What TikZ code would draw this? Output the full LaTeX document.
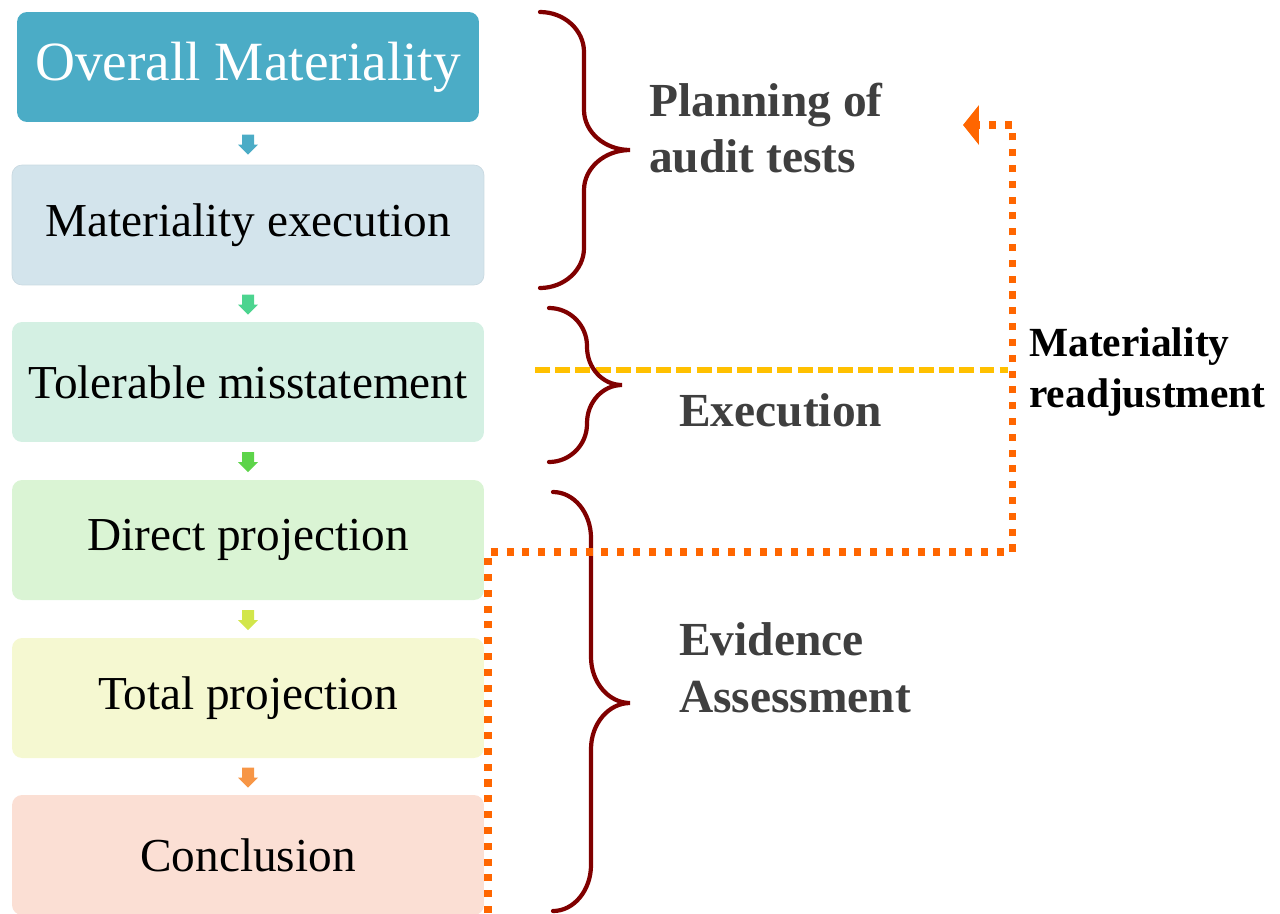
\documentclass[tikz,border=0pt]{standalone}
\usepackage{fontspec}
\setmainfont{Liberation Serif}
\usepackage{xcolor}
\usetikzlibrary{positioning,calc,arrows.meta}

\definecolor{tealbox}{HTML}{4BACC6}
\definecolor{bluebox}{HTML}{D3E4EC}
\definecolor{mintbox}{HTML}{D4F0E3}
\definecolor{greenbox}{HTML}{DAF4D4}
\definecolor{yellowbox}{HTML}{F5F8D1}
\definecolor{salmonbox}{HTML}{FBDFD4}
\definecolor{arrowA}{HTML}{4BACC6}
\definecolor{arrowB}{HTML}{4CD48F}
\definecolor{arrowC}{HTML}{5DD44A}
\definecolor{arrowD}{HTML}{D2E64B}
\definecolor{arrowE}{HTML}{F79646}
\definecolor{bracered}{HTML}{800000}
\definecolor{labelgray}{HTML}{3F3F3F}
\definecolor{dotorange}{HTML}{FF6600}
\definecolor{dashyellow}{HTML}{FFC000}

\tikzset{
  stagebox/.style={rounded corners=0.2cm, minimum width=9.44cm,
    minimum height=2.4cm, inner sep=0pt,
    font=\fontsize{26.9}{30}\selectfont},
  phaselabel/.style={anchor=west, align=left, text=labelgray,
    font=\fontsize{27}{32.3}\selectfont\bfseries},
  phasebrace/.style={draw=bracered, line width=2.4pt, line cap=round},
}

% brace: x0 (ends), xv (spine), xt (tip), ytop, ymid, ybot, bend
\newcommand{\auditbrace}[7]{%
  \draw[phasebrace] (#1,#4)
    .. controls ({#1+0.55*(#2-#1)},#4) and (#2,{#4+0.45*#7}) .. (#2,#4+#7)
    -- (#2,#5-#7)
    .. controls (#2,{#5-0.45*#7}) and ({#2+0.45*(#3-#2)},#5) .. (#3,#5)
    .. controls ({#2+0.45*(#3-#2)},#5) and (#2,{#5+0.45*#7}) .. (#2,#5+#7)
    -- (#2,#6-#7)
    .. controls (#2,{#6-0.45*#7}) and ({#1+0.55*(#2-#1)},#6) .. (#1,#6);}

\begin{document}
\begin{tikzpicture}[x=0.02cm, y=-0.02cm]
    \useasboundingbox (0,0) rectangle (1280,913);
    % Stages
    \node [stagebox, minimum width=9.24cm, minimum height=2.2cm,
        fill=tealbox, text=white, font=\fontsize{31.5}{34}\selectfont]
        (overall) at (248,67) {Overall Materiality};
    \node [stagebox, fill=bluebox, draw=bluebox!92!black!60!bluebox]
        (execmat) at (248,225) {Materiality execution};
    \node [stagebox, fill=mintbox] (tolerable) at (248,382) {Tolerable misstatement};
    \node [stagebox, fill=greenbox] (direct) at (248,540) {Direct projection};
    \node [stagebox, fill=yellowbox] (total) at (248,698) {Total projection};
    \node [stagebox, fill=salmonbox] (conclusion) at (248,855) {Conclusion};
    % Flow arrows
    \foreach \a/\b/\c in {overall/execmat/arrowA, execmat/tolerable/arrowB,
        tolerable/direct/arrowC, direct/total/arrowD, total/conclusion/arrowE}
    {
    \fill [\c] ($(\a.south)!0.5!(\b.north)$) ++(-6,-9) -- ++(12,0) -- ++(0,10)
        -- ++(4,0) -- ++(-10,10) -- ++(-10,-10) -- ++(4,0) -- cycle;
    }
    % Dashed line
    \coordinate (dashstart) at (535,370);
    \coordinate (dashend) at (1008,370);
    \draw [dashyellow, line width=3.2pt, dash pattern=on 8.5pt off 3pt]
        (dashstart) -- (dashend);
    % Braces
    \auditbrace{540}{584}{630}{12}{150}{288}{40}
    \auditbrace{549}{587}{622}{308}{385}{462}{38}
    \auditbrace{553}{591}{630}{492}{703}{911}{46}
    % Readjustment loop
    \coordinate (loopstart) at (488,913);
    \coordinate (loopcorner) at (488,552);
    \coordinate (loopright) at (1012,552);
    \coordinate (looptop) at (1012,125);
    \coordinate (looptip) at (963,125);
    \draw [dotorange, line width=4pt, dash pattern=on 4pt off 5pt,
        -{Triangle[length=9pt, width=22pt]}]
        (loopstart) -- (loopcorner) -- (loopright) -- (looptop) -- (looptip);
    % Labels
    \node [phaselabel] (planning) at (643,128) {Planning of\\audit tests};
    \node [phaselabel] (execution) at (673,410) {Execution};
    \node [phaselabel] (evidence) at (673,668) {Evidence\\Assessment};
    \node [phaselabel, text=black, font=\fontsize{23.6}{29}\selectfont\bfseries]
        (readjust) at (1023,372) {Materiality\\readjustment};
\end{tikzpicture}
\end{document}
